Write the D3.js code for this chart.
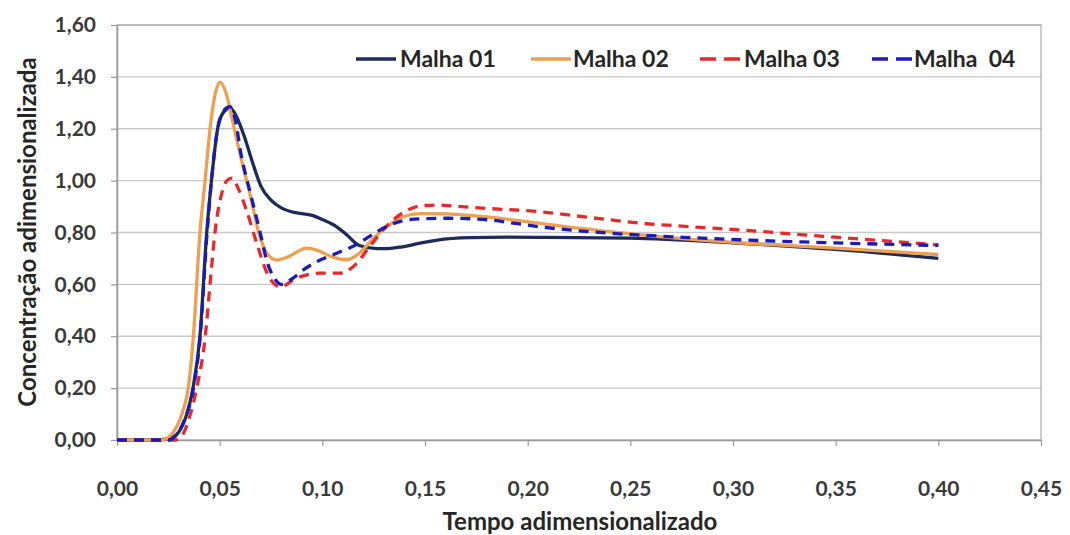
<!DOCTYPE html>
<html>
<head>
<meta charset="utf-8">
<script src="https://cdn.jsdelivr.net/npm/d3@7"></script>
<style>
  html, body { margin: 0; padding: 0; background: #fff; }
  svg { display: block; font-family: Lato, "Open Sans", sans-serif; }
</style>
</head>
<body>
<svg id="chart" width="1070" height="535"></svg>
<script>
// Dimensionless time values and concentrations for each mesh
const malha01T = [0, 0.020, 0.027, 0.030, 0.034, 0.037, 0.0404, 0.0437, 0.046, 0.049, 0.052, 0.055, 0.058, 0.062, 0.066, 0.070, 0.075, 0.080, 0.085, 0.090, 0.0955, 0.100, 0.107, 0.112, 0.118, 0.1265, 0.132, 0.139, 0.147, 0.156, 0.172, 0.190, 0.210, 0.250, 0.300, 0.350, 0.400];
const malha01V = [0, 0, 0.01, 0.03, 0.10, 0.20, 0.40, 0.80, 1.00, 1.20, 1.265, 1.28, 1.25, 1.17, 1.07, 0.98, 0.925, 0.895, 0.88, 0.873, 0.865, 0.85, 0.822, 0.79, 0.75, 0.738, 0.738, 0.745, 0.758, 0.771, 0.78, 0.782, 0.781, 0.778, 0.76, 0.735, 0.70];

const malha02T = [0, 0.022, 0.025, 0.029, 0.032, 0.0347, 0.0372, 0.0404, 0.0429, 0.0453, 0.048, 0.0502, 0.053, 0.056, 0.060, 0.065, 0.069, 0.073, 0.0778, 0.083, 0.0924, 0.098, 0.105, 0.112, 0.118, 0.124, 0.131, 0.139, 0.148, 0.160, 0.180, 0.206, 0.250, 0.300, 0.350, 0.400];
const malha02V = [0, 0, 0.01, 0.05, 0.11, 0.20, 0.40, 0.80, 1.00, 1.20, 1.34, 1.38, 1.34, 1.24, 1.10, 0.94, 0.80, 0.72, 0.694, 0.705, 0.74, 0.73, 0.705, 0.695, 0.72, 0.77, 0.82, 0.86, 0.873, 0.872, 0.86, 0.835, 0.795, 0.762, 0.74, 0.715];

const malha03T = [0, 0.028, 0.031, 0.035, 0.0388, 0.043, 0.0453, 0.0477, 0.051, 0.0535, 0.056, 0.059, 0.063, 0.068, 0.073, 0.0794, 0.0875, 0.099, 0.1086, 0.115, 0.123, 0.131, 0.139, 0.148, 0.157, 0.164, 0.180, 0.206, 0.230, 0.255, 0.280, 0.303, 0.336, 0.370, 0.400];
const malha03V = [0, 0, 0.01, 0.08, 0.20, 0.40, 0.60, 0.80, 0.95, 1.00, 1.01, 0.97, 0.887, 0.76, 0.645, 0.59, 0.624, 0.643, 0.643, 0.668, 0.745, 0.822, 0.875, 0.903, 0.906, 0.902, 0.893, 0.88, 0.858, 0.836, 0.822, 0.81, 0.79, 0.77, 0.752];

const malha04T = [0, 0.025, 0.029, 0.033, 0.037, 0.0405, 0.0437, 0.046, 0.049, 0.052, 0.055, 0.058, 0.060, 0.065, 0.0697, 0.073, 0.077, 0.080, 0.085, 0.0906, 0.098, 0.107, 0.117, 0.123, 0.131, 0.139, 0.148, 0.160, 0.172, 0.182, 0.194, 0.206, 0.230, 0.255, 0.280, 0.303, 0.350, 0.400];
const malha04V = [0, 0, 0.02, 0.08, 0.19, 0.40, 0.78, 1.00, 1.20, 1.27, 1.285, 1.22, 1.12, 0.95, 0.80, 0.69, 0.62, 0.60, 0.62, 0.655, 0.69, 0.72, 0.755, 0.785, 0.822, 0.845, 0.853, 0.855, 0.853, 0.848, 0.835, 0.822, 0.803, 0.79, 0.78, 0.772, 0.76, 0.75];

const seriesNames = ["Malha 01", "Malha 02", "Malha 03", "Malha  04"];
const xTicks = [0, 0.05, 0.10, 0.15, 0.20, 0.25, 0.30, 0.35, 0.40, 0.45];
const yTicks = [0, 0.2, 0.4, 0.6, 0.8, 1.0, 1.2, 1.4, 1.6];
const xTitle = "Tempo adimensionalizado";
const yTitle = "Concentração adimensionalizada";

const fmt = v => d3.format(".2f")(v).replace(".", ",");

const series = [
  { name: seriesNames[0], t: malha01T, v: malha01V, color: "#1c2b58", dash: null },
  { name: seriesNames[1], t: malha02T, v: malha02V, color: "#ee9f4f", dash: null },
  { name: seriesNames[2], t: malha03T, v: malha03V, color: "#e8282b", dash: "10,7" },
  { name: seriesNames[3], t: malha04T, v: malha04V, color: "#1b1bbd", dash: "10,7" }
];

const svg = d3.select("#chart");
const plot = { left: 117, right: 1041, top: 25, bottom: 440 };

const x = d3.scaleLinear().domain([0, 0.45]).range([plot.left, plot.right]);
const y = d3.scaleLinear().domain([0, 1.6]).range([plot.bottom, plot.top]);

// horizontal gridlines
svg.append("g")
  .selectAll("line")
  .data(yTicks.filter(d => d > 0))
  .join("line")
  .attr("x1", plot.left).attr("x2", plot.right)
  .attr("y1", d => y(d)).attr("y2", d => y(d))
  .attr("stroke", "#c9c9c9").attr("stroke-width", 1.4);

// plot frame
svg.append("rect")
  .attr("x", plot.left).attr("y", plot.top)
  .attr("width", plot.right - plot.left).attr("height", plot.bottom - plot.top)
  .attr("fill", "none").attr("stroke", "#a8a8a8").attr("stroke-width", 1.2);

// axes
const xAxis = d3.axisBottom(x).tickValues(xTicks).tickFormat(fmt).tickSizeInner(6).tickSizeOuter(0).tickPadding(35);
const yAxis = d3.axisLeft(y).tickValues(yTicks).tickFormat(fmt).tickSizeInner(6).tickSizeOuter(0).tickPadding(15);

const gx = svg.append("g").attr("transform", `translate(0,${plot.bottom})`).call(xAxis);
const gy = svg.append("g").attr("transform", `translate(${plot.left},0)`).call(yAxis);
[gx, gy].forEach(g => {
  g.select(".domain").attr("stroke", "#999").attr("stroke-width", 1.5);
  g.selectAll(".tick line").attr("stroke", "#999").attr("stroke-width", 1.2);
  g.selectAll(".tick text")
    .attr("fill", "#3a3a3a")
    .style("font-family", "Lato, sans-serif")
    .style("font-weight", 700)
    .style("font-size", "21px");
});

// axis titles
svg.append("text")
  .attr("x", 580).attr("y", 530)
  .attr("text-anchor", "middle")
  .attr("fill", "#262626")
  .style("font-weight", 700).style("font-size", "24px")
  .text(xTitle);

svg.append("text")
  .attr("transform", "translate(36,232) rotate(-90)")
  .attr("text-anchor", "middle")
  .attr("fill", "#262626")
  .style("font-weight", 700).style("font-size", "24px")
  .text(yTitle);

// data lines
const line = d3.line().x(d => x(d[0])).y(d => y(d[1])).curve(d3.curveMonotoneX);
svg.append("g")
  .selectAll("path")
  .data(series)
  .join("path")
  .attr("d", s => line(s.t.map((t, i) => [t, s.v[i]])))
  .attr("fill", "none")
  .attr("stroke", s => s.color)
  .attr("stroke-width", 3.3)
  .attr("stroke-dasharray", s => s.dash)
  .attr("stroke-linejoin", "round");

// legend: swatch start and label start for each entry
const legendLineX = [356, 531, 700, 872];
const legendTextX = [400, 573, 744, 914];
const lg = svg.append("g").selectAll("g").data(series).join("g");
lg.append("line")
  .attr("x1", (s, i) => legendLineX[i]).attr("x2", (s, i) => legendLineX[i] + 40)
  .attr("y1", 59).attr("y2", 59)
  .attr("stroke", s => s.color).attr("stroke-width", 3.5)
  .attr("stroke-dasharray", s => s.dash ? "16,8" : null);
lg.append("text")
  .attr("x", (s, i) => legendTextX[i]).attr("y", 67)
  .attr("fill", "#262626")
  .style("font-weight", 700).style("font-size", "23px")
  .style("white-space", "pre")
  .text(s => s.name);
</script>
</body>
</html>
